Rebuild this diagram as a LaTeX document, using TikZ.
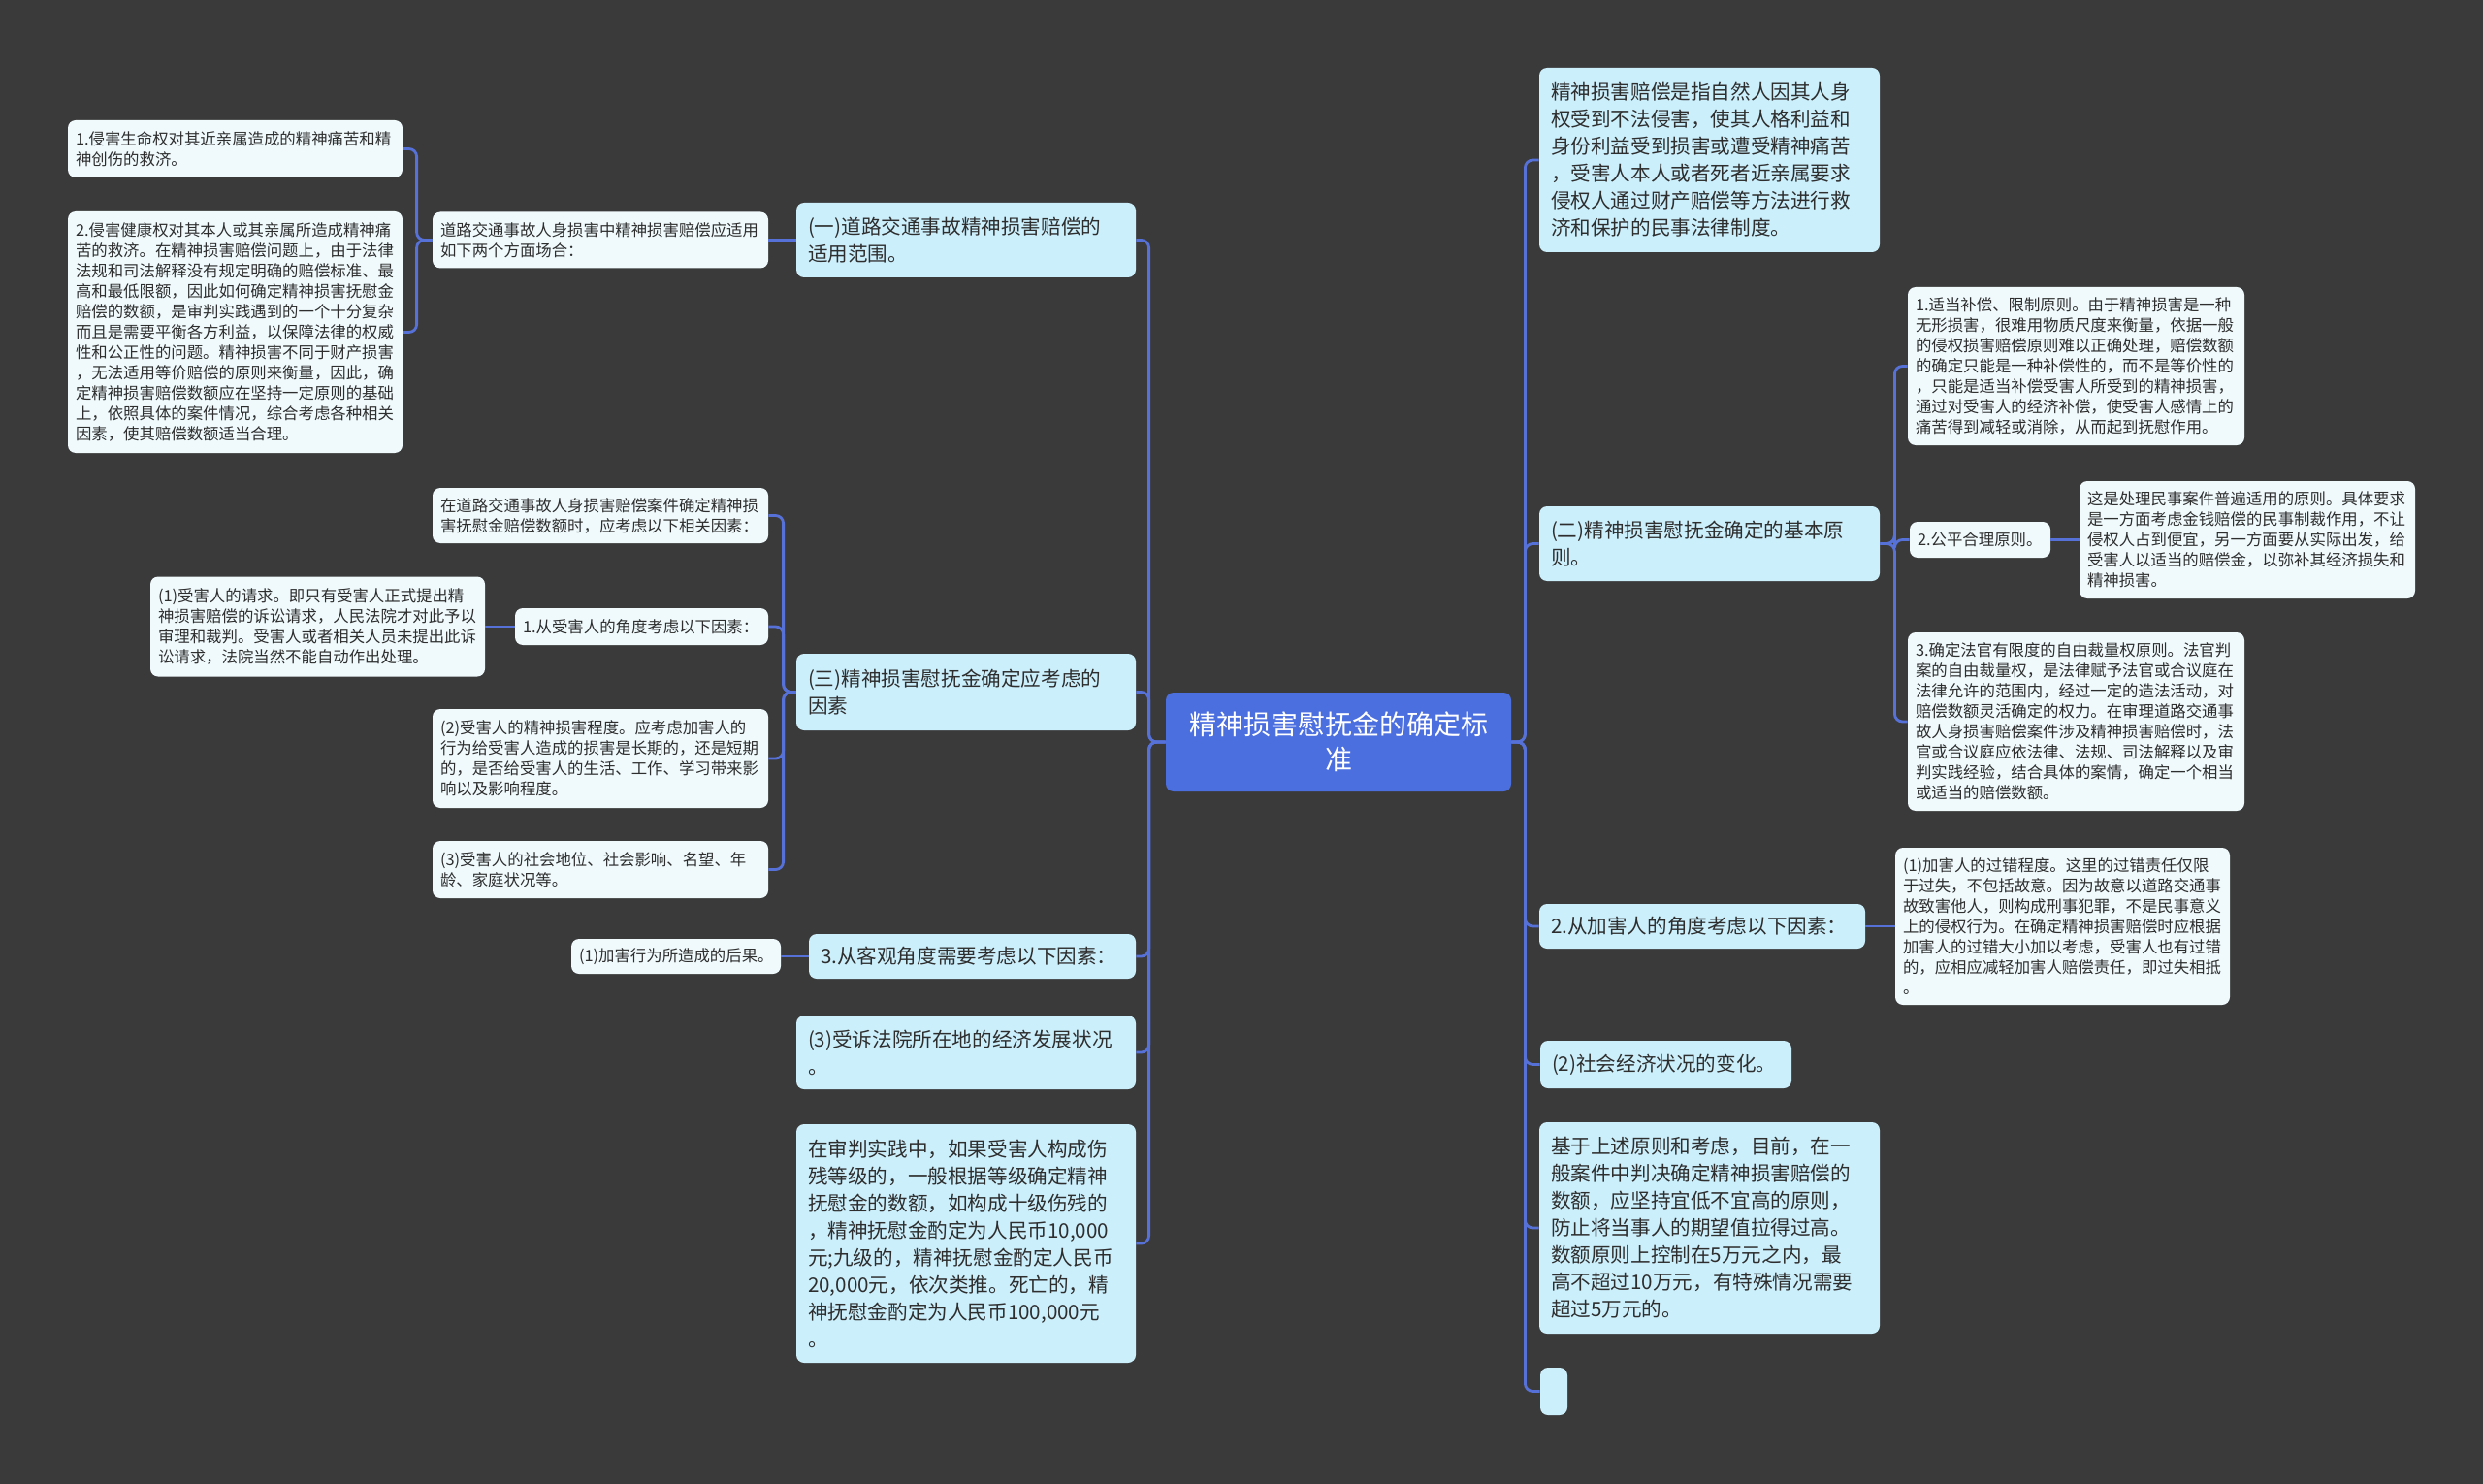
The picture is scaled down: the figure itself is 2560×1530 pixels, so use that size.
\documentclass[tikz,border=0pt]{standalone}
\usepackage{fontspec}
\setmainfont{Noto Sans CJK SC}
\usepackage{tikz}
\usepackage{xcolor}
\definecolor{bgdark}{HTML}{3B3A3A}
\definecolor{linkblue}{HTML}{5672D8}
\definecolor{rootblue}{HTML}{4C6FE0}
\definecolor{topicfill}{HTML}{CCEFFC}
\definecolor{leaffill}{HTML}{F0FAFD}
\definecolor{inkgray}{HTML}{2E2E2E}

\begin{document}
\begin{tikzpicture}[x=0.5pt, y=-0.5pt,
    root/.style={fill=rootblue, text=white, rounded corners=4pt, align=center, font=\fontsize{14}{18}\selectfont},
    topic/.style={fill=topicfill, text=inkgray, rounded corners=4pt, align=left, inner xsep=6pt, font=\fontsize{10.3}{14}\selectfont},
    leaf/.style={fill=leaffill, text=inkgray, rounded corners=4pt, align=left, inner xsep=4pt, font=\fontsize{8.2}{10.5}\selectfont},
    link/.style={draw=linkblue, line width=1.4pt, rounded corners=4pt}]
      \useasboundingbox (0,0) rectangle (2560,1530);
      \fill [bgdark] (0,0) rectangle (2560,1530);

      \node [root, minimum width=178pt, minimum height=51pt] (ctr) at (1380,765) {精神损害慰抚金的确定标\\准};

      \node [topic, text width=163pt, minimum height=38.5pt] (one) at (996,247.5) {(一)道路交通事故精神损害赔偿的\\适用范围。};
      \node [topic, text width=163pt, minimum height=39.5pt] (three) at (996,713.5) {(三)精神损害慰抚金确定应考虑的\\因素};
      \node [topic, text width=156.5pt, minimum height=23pt] (obj) at (1002.5,986) {3.从客观角度需要考虑以下因素：};
      \node [topic, text width=163pt, minimum height=38pt] (court) at (996,1085) {(3)受诉法院所在地的经济发展状况\\。};
      \node [topic, text width=163pt, minimum height=123pt] (trial) at (996,1282) {在审判实践中，如果受害人构成伤\\残等级的，一般根据等级确定精神\\抚慰金的数额，如构成十级伤残的\\，精神抚慰金酌定为人民币10,000\\元;九级的，精神抚慰金酌定人民币\\20,000元，依次类推。死亡的，精\\神抚慰金酌定为人民币100,000元\\。};

      \node [topic, text width=163.5pt, minimum height=95pt] (def) at (1762.5,165) {精神损害赔偿是指自然人因其人身\\权受到不法侵害，使其人格利益和\\身份利益受到损害或遭受精神痛苦\\，受害人本人或者死者近亲属要求\\侵权人通过财产赔偿等方法进行救\\济和保护的民事法律制度。};
      \node [topic, text width=163.5pt, minimum height=38.5pt] (two) at (1762.5,560.5) {(二)精神损害慰抚金确定的基本原\\则。};
      \node [topic, text width=156pt, minimum height=23pt] (inj) at (1755,955) {2.从加害人的角度考虑以下因素：};
      \node [topic, text width=117.5pt, minimum height=24.5pt] (econ) at (1717.5,1097.5) {(2)社会经济状况的变化。};
      \node [topic, text width=163.5pt, minimum height=109pt] (basis) at (1762.5,1266) {基于上述原则和考虑，目前，在一\\般案件中判决确定精神损害赔偿的\\数额，应坚持宜低不宜高的原则，\\防止将当事人的期望值拉得过高。\\数额原则上控制在5万元之内，最\\高不超过10万元，有特殊情况需要\\超过5万元的。};
      \node [topic, minimum width=14pt, minimum height=24.5pt] (blank) at (1602,1434.5) {};

      \node [leaf, text width=165pt, minimum height=29pt] (scope) at (619,247.5) {道路交通事故人身损害中精神损害赔偿应适用\\如下两个方面场合：};
      \node [leaf, text width=164.5pt, minimum height=29.5pt] (life) at (242.5,153.5) {1.侵害生命权对其近亲属造成的精神痛苦和精\\神创伤的救济。};
      \node [leaf, text width=164.5pt, minimum height=124.5pt] (health) at (242.5,342.5) {2.侵害健康权对其本人或其亲属所造成精神痛\\苦的救济。在精神损害赔偿问题上，由于法律\\法规和司法解释没有规定明确的赔偿标准、最\\高和最低限额，因此如何确定精神损害抚慰金\\赔偿的数额，是审判实践遇到的一个十分复杂\\而且是需要平衡各方利益，以保障法律的权威\\性和公正性的问题。精神损害不同于财产损害\\，无法适用等价赔偿的原则来衡量，因此，确\\定精神损害赔偿数额应在坚持一定原则的基础\\上，依照具体的案件情况，综合考虑各种相关\\因素，使其赔偿数额适当合理。};

      \node [leaf, text width=165pt, minimum height=28.5pt] (intro) at (619,531.5) {在道路交通事故人身损害赔偿案件确定精神损\\害抚慰金赔偿数额时，应考虑以下相关因素：};
      \node [leaf, text width=122.5pt, minimum height=19pt] (victim) at (661.5,646) {1.从受害人的角度考虑以下因素：};
      \node [leaf, text width=164.5pt, minimum height=51.5pt] (claim) at (327.5,646) {(1)受害人的请求。即只有受害人正式提出精\\神损害赔偿的诉讼请求，人民法院才对此予以\\审理和裁判。受害人或者相关人员未提出此诉\\讼请求，法院当然不能自动作出处理。};
      \node [leaf, text width=165pt, minimum height=51pt] (harm) at (619,782) {(2)受害人的精神损害程度。应考虑加害人的\\行为给受害人造成的损害是长期的，还是短期\\的，是否给受害人的生活、工作、学习带来影\\响以及影响程度。};
      \node [leaf, text width=165pt, minimum height=29.5pt] (status) at (619,896.5) {(3)受害人的社会地位、社会影响、名望、年\\龄、家庭状况等。};
      \node [leaf, text width=100pt, minimum height=18pt] (result) at (697,986) {(1)加害行为所造成的后果。};

      \node [leaf, text width=165.5pt, minimum height=81.5pt] (p1) at (2140.5,377.5) {1.适当补偿、限制原则。由于精神损害是一种\\无形损害，很难用物质尺度来衡量，依据一般\\的侵权损害赔偿原则难以正确处理，赔偿数额\\的确定只能是一种补偿性的，而不是等价性的\\，只能是适当补偿受害人所受到的精神损害，\\通过对受害人的经济补偿，使受害人感情上的\\痛苦得到减轻或消除，从而起到抚慰作用。};
      \node [leaf, text width=64.5pt, minimum height=18.5pt] (p2) at (2041.5,556.5) {2.公平合理原则。};
      \node [leaf, text width=165pt, minimum height=60.5pt] (p2a) at (2317,556.5) {这是处理民事案件普遍适用的原则。具体要求\\是一方面考虑金钱赔偿的民事制裁作用，不让\\侵权人占到便宜，另一方面要从实际出发，给\\受害人以适当的赔偿金，以弥补其经济损失和\\精神损害。};
      \node [leaf, text width=165.5pt, minimum height=92pt] (p3) at (2140.5,744) {3.确定法官有限度的自由裁量权原则。法官判\\案的自由裁量权，是法律赋予法官或合议庭在\\法律允许的范围内，经过一定的造法活动，对\\赔偿数额灵活确定的权力。在审理道路交通事\\故人身损害赔偿案件涉及精神损害赔偿时，法\\官或合议庭应依法律、法规、司法解释以及审\\判实践经验，结合具体的案情，确定一个相当\\或适当的赔偿数额。};
      \node [leaf, text width=164.5pt, minimum height=81pt] (hurt) at (2126.5,955) {(1)加害人的过错程度。这里的过错责任仅限\\于过失，不包括故意。因为故意以道路交通事\\故致害他人，则构成刑事犯罪，不是民事意义\\上的侵权行为。在确定精神损害赔偿时应根据\\加害人的过错大小加以考虑，受害人也有过错\\的，应相应减轻加害人赔偿责任，即过失相抵\\。};

      \draw [link] (ctr.west) -- ++(-17,0) |- (one.east);
      \draw [link] (ctr.west) -- ++(-17,0) |- (three.east);
      \draw [link] (ctr.west) -- ++(-17,0) |- (obj.east);
      \draw [link] (ctr.west) -- ++(-17,0) |- (court.east);
      \draw [link] (ctr.west) -- ++(-17,0) |- (trial.east);
      \draw [link] (ctr.east) -- ++(14,0) |- (def.west);
      \draw [link] (ctr.east) -- ++(14,0) |- (two.west);
      \draw [link] (ctr.east) -- ++(14,0) |- (inj.west);
      \draw [link] (ctr.east) -- ++(14,0) |- (econ.west);
      \draw [link] (ctr.east) -- ++(14,0) |- (basis.west);
      \draw [link] (ctr.east) -- ++(14,0) |- (blank.west);
      \draw [link] (one.west) -- (scope.east);
      \draw [link] (scope.west) -- ++(-16,0) |- (life.east);
      \draw [link] (scope.west) -- ++(-16,0) |- (health.east);
      \draw [link] (three.west) -- ++(-13,0) |- (intro.east);
      \draw [link] (three.west) -- ++(-13,0) |- (victim.east);
      \draw [link] (three.west) -- ++(-13,0) |- (harm.east);
      \draw [link] (three.west) -- ++(-13,0) |- (status.east);
      \draw [link] (victim.west) -- (claim.east);
      \draw [link] (obj.west) -- (result.east);
      \draw [link] (two.east) -- ++(15,0) |- (p1.west);
      \draw [link] (two.east) -- ++(15,0) |- (p2.west);
      \draw [link] (two.east) -- ++(15,0) |- (p3.west);
      \draw [link] (p2.east) -- (p2a.west);
      \draw [link] (inj.east) -- (hurt.west);
    \end{tikzpicture}
\end{document}
